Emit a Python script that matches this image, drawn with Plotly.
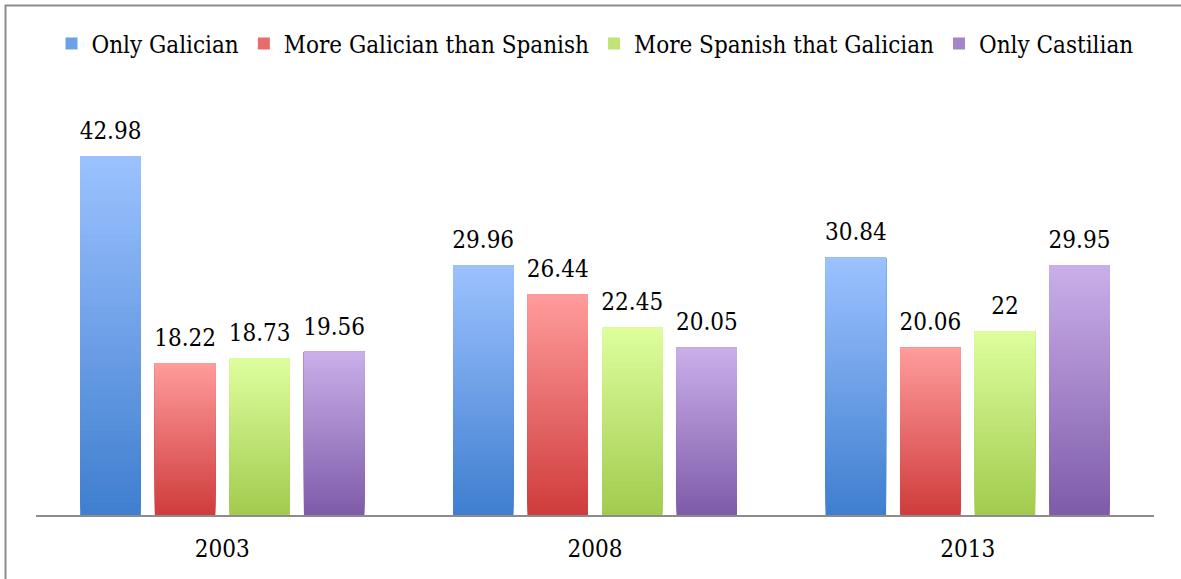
import plotly.graph_objects as go

# Survey years and share (%) of people by language habitually spoken
years = ["2003", "2008", "2013"]
series_names = [
    "Only Galician",
    "More Galician than Spanish",
    "More Spanish that Galician",
    "Only Castilian",
]
only_galician = [42.98, 29.96, 30.84]
more_galician = [18.22, 26.44, 20.06]
more_spanish = [18.73, 22.45, 22.0]
only_castilian = [19.56, 20.05, 29.95]
series_values = [only_galician, more_galician, more_spanish, only_castilian]

# (bottom colour, top colour) of each series' vertical gradient
gradients = [
    ("#3f7ecf", "#9cc2ff"),
    ("#cf3c3c", "#ff9c9c"),
    ("#a2cb4e", "#defe9e"),
    ("#7e5ba9", "#caafea"),
]

FONT = "DejaVu Serif Condensed, DejaVu Serif, serif"
FS = 24
N_STEPS = 60


def hex_to_rgb(h):
    h = h.lstrip("#")
    return tuple(int(h[i:i + 2], 16) for i in (0, 2, 4))


def mix(c0, c1, t):
    a, b = hex_to_rgb(c0), hex_to_rgb(c1)
    r = [round(a[i] + (b[i] - a[i]) * t) for i in range(3)]
    return f"rgb({r[0]},{r[1]},{r[2]})"


def fmt(v):
    return f"{v:g}"


def font(size=FS):
    return dict(family=FONT, size=size, color="#000000")


fig = go.Figure()

for s, (name, vals, (c_lo, c_hi)) in enumerate(zip(series_names, series_values, gradients)):
    group = f"g{s}"
    # full bar (legend entry + backing under the gradient bands)
    fig.add_trace(go.Bar(
        x=years, y=vals, name=name, offsetgroup=group, legendgroup=group,
        marker=dict(color=mix(c_lo, c_hi, 0.5), line=dict(width=0)),
        hoverinfo="x+y+name",
    ))
    # gradient bands: each runs from its start height up to the value,
    # so every later band paints over the upper part of the previous one
    for k in range(N_STEPS):
        fig.add_trace(go.Bar(
            x=years,
            y=[v * (N_STEPS - k) / N_STEPS for v in vals],
            base=[v * k / N_STEPS for v in vals],
            offsetgroup=group, legendgroup=group, showlegend=False,
            marker=dict(color=mix(c_lo, c_hi, (k + 0.5) / N_STEPS), line=dict(width=0)),
            hoverinfo="skip",
        ))
    # value labels sitting a little above each bar
    fig.add_trace(go.Bar(
        x=years, y=[1.0] * len(vals), base=vals,
        offsetgroup=group, legendgroup=group, showlegend=False,
        marker=dict(color="rgba(0,0,0,0)", line=dict(width=0)),
        text=[fmt(v) for v in vals], textposition="outside",
        constraintext="none", cliponaxis=False,
        textfont=font(),
        hoverinfo="skip",
    ))

L, R, T, B = 36, 27, 98, 64
W, H = 1181, 579
plot_w, plot_h = W - L - R, H - T - B

# outer chart frame (only its top and left edges fall inside the page)
frame_x0 = (5.5 - L) / plot_w
frame_y1 = (H - B - 5.5) / plot_h

fig.update_layout(
    width=W, height=H,
    margin=dict(l=L, r=R, t=T, b=B),
    paper_bgcolor="white", plot_bgcolor="white",
    barmode="group", bargap=0.2, bargroupgap=0.19,
    font=font(),
    showlegend=True,
    legend=dict(
        orientation="h", x=0.5, xanchor="center",
        y=(H - B - 44) / plot_h, yanchor="middle",
        font=font(), itemclick=False,
        bgcolor="rgba(0,0,0,0)", traceorder="normal",
    ),
    xaxis=dict(
        type="category", showline=True, linecolor="#8c8c8c", linewidth=2,
        ticks="", showgrid=False, zeroline=False,
        tickfont=font(), ticklabelstandoff=11,
    ),
    yaxis=dict(range=[0, 50], visible=False, showgrid=False, zeroline=False),
    shapes=[dict(
        type="rect", xref="paper", yref="paper",
        x0=frame_x0, x1=1.2, y0=-0.5, y1=frame_y1,
        line=dict(color="#8c8c8c", width=2), layer="below",
    )],
)

fig.write_html("out.html")
